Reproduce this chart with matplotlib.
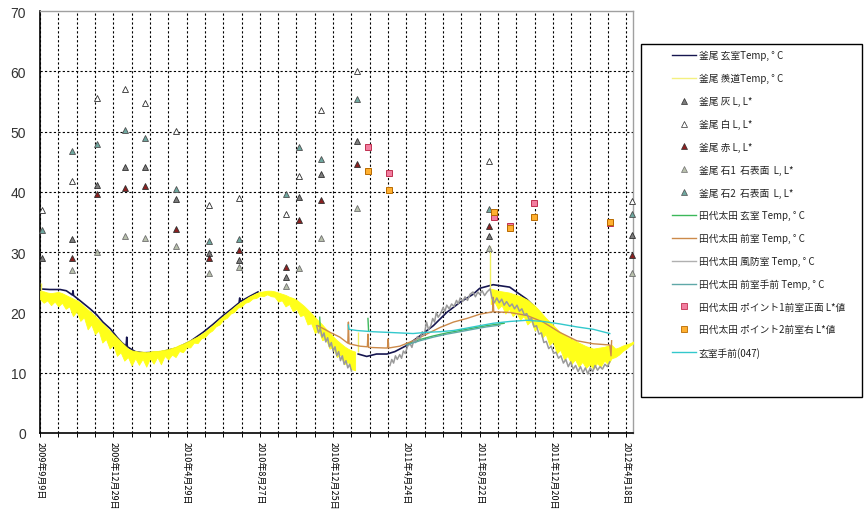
import numpy as np
import matplotlib
matplotlib.use('Agg')
import matplotlib.pyplot as plt
from matplotlib.lines import Line2D
from matplotlib.patches import Rectangle

plt.rcParams['font.family'] = ['Noto Sans CJK JP', 'DejaVu Sans']

# x axis is days from the first category
tick_days = [0, 120, 240, 360, 480, 600, 720, 840, 960]
tick_labels = ['2009年9月9日', '2009年12月29日', '2010年4月29日', '2010年8月27日',
               '2010年12月25日', '2011年4月24日', '2011年8月22日', '2011年12月20日',
               '2012年4月18日']

# 釜尾 玄室 temperature (nan = gap)
navy_days = [0, 16, 33, 43, 53, 54, 55, 65, 82, 93, 103, 115, 126, 134, 141, 142, 143,
             156, 169, 196, 224, 246, 267, 283, 300, 314, 326, 327, 328, 344, 357,
             358,
             521, 535, 551, 568, 581, 600, 622, 644, 666, 688, 709, 720, 742, 769, 797,
             813, 829, 846, 862, 879, 900]
navy_vals = [23.9, 23.8, 23.8, 23.6, 22.9, 23.6, 22.8, 22.0, 20.6, 19.6, 18.4, 17.3, 15.9,
             15.0, 14.4, 15.9, 14.3, 13.5, 13.3, 13.4, 14.1, 15.2, 16.7, 18.0, 19.5, 20.6,
             21.6, 22.4, 21.8, 22.7, 23.4,
             np.nan,
             13.1, 12.7, 13.1, 13.1, 13.5, 14.5, 16.1, 17.8, 20.0, 21.7, 23.0, 24.0, 24.6,
             24.2, 22.2, 20.6, 18.4, 16.7, 15.6, 14.3, 13.2]

# 釜尾 羨道 temperature: noisy band, upper / lower edge every 6 days
yellow_days_a = np.arange(0, 517, 6)
yellow_top_a = [23.6, 23.5, 23.3, 23.2, 23.3, 23.4, 23.2, 22.9, 22.6, 22.3, 22.0, 21.6, 21.0,
                20.5, 20.0, 19.4, 18.8, 18.2, 17.6, 17.0, 16.4, 15.8, 15.2, 14.6, 14.0, 13.7,
                13.6, 13.5, 13.5, 13.4, 13.5, 13.6, 13.6, 13.7, 13.8, 13.9, 14.1, 14.3, 14.6,
                14.8, 15.1, 15.4, 15.7, 16.0, 16.4, 16.8, 17.3, 17.8, 18.3, 18.9, 19.4, 19.9,
                20.4, 20.9, 21.4, 21.8, 22.2, 22.6, 22.9, 23.2, 23.4, 23.5, 23.6, 23.6, 23.5,
                23.3, 23.1, 22.9, 22.6, 22.4, 22.1, 21.6, 21.1, 20.5, 19.9, 19.2, 18.6, 18.0,
                17.3, 16.7, 16.0, 15.4, 14.9, 14.4, 14.0, 13.7, 13.5]
yellow_bot_a = [22.2, 21.6, 22.0, 21.2, 21.8, 21.0, 21.6, 20.6, 21.0, 19.4, 20.2, 18.6, 19.2,
                17.2, 18.0, 16.4, 17.0, 15.0, 15.6, 14.0, 14.6, 12.8, 13.4, 12.0, 12.6, 11.2,
                12.4, 11.3, 12.3, 11.0, 12.4, 11.5, 12.6, 11.4, 12.8, 12.2, 13.0, 12.6, 13.6,
                13.4, 14.2, 14.2, 15.0, 14.9, 15.7, 15.9, 16.6, 17.0, 17.7, 18.0, 18.8, 19.1,
                19.8, 20.1, 20.8, 21.0, 21.6, 21.8, 22.3, 22.4, 22.8, 22.7, 23.0, 22.7, 22.6,
                21.8, 22.0, 21.0, 21.4, 20.2, 20.6, 19.4, 19.6, 18.0, 18.2, 16.6, 17.0, 15.4,
                15.6, 14.0, 14.2, 12.6, 13.0, 11.4, 11.8, 10.6, 10.4]
yellow_days_b = np.arange(738, 973, 6)
yellow_top_b = [23.9, 23.8, 23.6, 23.5, 23.4, 23.3, 23.1, 22.9, 22.7, 22.4, 22.1, 21.6, 21.1,
                20.5, 19.8, 19.1, 18.5, 17.9, 17.3, 16.7, 16.3, 15.9, 15.6, 15.3, 15.0, 14.7,
                14.4, 14.2, 14.0, 14.1, 14.2, 14.3, 14.5, 14.6, 14.0, 14.2, 14.5, 14.7, 14.9,
                15.2]
yellow_bot_b = [21.4, 21.8, 20.6, 21.2, 19.8, 20.6, 19.4, 20.0, 18.8, 19.4, 18.0, 18.6, 17.0,
                17.6, 15.8, 16.4, 14.6, 15.2, 13.2, 13.8, 12.2, 12.8, 11.4, 12.2, 11.0, 11.8,
                10.8, 11.4, 10.6, 11.6, 11.0, 12.0, 11.4, 12.4, 12.6, 13.0, 13.6, 14.0, 14.5,
                14.9]
# isolated spikes of the 羨道 logger
yellow_spike_days = [2, 521, 737]
yellow_spike_lo = [23.6, 13.4, 23.9]
yellow_spike_hi = [24.9, 16.7, 31.0]

# L* measurements, one value per visit
visit_days = [4, 52, 93, 139, 172, 222, 276, 326, 403, 424, 460, 519, 736, 969]
ash_vals = [29.0, 32.2, 41.2, 44.1, 44.1, 38.8, 29.9, 28.7, 25.8, 39.1, 42.9, 48.5, 32.7, 32.9]
white_vals = [37.0, 41.8, 55.5, 57.0, 54.7, 50.1, 37.8, 38.9, 36.4, 42.7, 53.5, 60.1, 45.2, 38.5]
red_vals = [np.nan, 29.0, 39.7, 40.7, 40.9, 33.8, 29.1, 30.4, 27.6, 35.4, 38.7, 44.7, 34.4, 29.5]
stone1_vals = [np.nan, 27.0, 30.1, 32.7, 32.4, 31.1, 26.6, 27.5, 24.4, 27.4, 32.4, 37.3, 30.7, 26.5]
stone2_vals = [33.6, 46.8, 48.0, 50.3, 48.9, 40.5, 31.8, 32.2, 39.7, 47.4, 45.5, 55.4, 37.1, 36.4]

# 田代太田 temperatures
green_days = [458, 459, 460, 537, 538, 539, 600, 622, 644, 666, 688, 709, 731, 753, 760]
green_vals = [19.2, 17.2, np.nan, 19.0, 17.0, np.nan, 14.8, 15.5, 16.1, 16.6, 17.0, 17.4,
              17.8, 18.1, 18.2]
front_days = [455, 466, 475, 491, 504, 505, 506, 524, 536, 537, 538, 565, 569, 570, 571, 589,
              611, 633, 655, 677, 699, 720, 741, 742, 743, 769, 797, 824, 851, 879, 906, 933,
              935, 936]
front_vals = [17.8, 17.2, 16.7, 15.9, 14.9, 18.4, 14.8, 14.4, 14.3, 16.4, 14.2, 14.1, 14.1,
              15.6, 14.1, 14.4, 15.3, 16.4, 17.5, 18.4, 19.0, 19.7, 20.1, 22.5, 20.1, 20.0,
              19.5, 18.4, 16.7, 15.3, 14.8, 14.6, 12.8, 15.3]
wind_days = [453, 456, 459, 462, 465, 468, 471, 474, 477, 480, 483, 486, 489, 492, 495, 498,
             501, 504, 507, 510, 511,
             573, 576, 579, 582, 585, 589, 592, 595, 598, 602, 606, 609, 612, 615, 618, 622,
             626, 629, 633, 636, 640, 643, 646, 649, 652, 656, 660, 663, 666, 670, 674, 678,
             682, 685, 688, 692, 696, 700, 704, 709, 713, 717, 720, 724, 728, 732, 737, 740,
             744, 748, 752, 756, 760, 764, 769, 773, 777, 781, 785, 789, 793, 797, 801, 805,
             809, 813, 817, 821, 825, 829, 833, 837, 841, 845, 849, 853, 857, 861, 865, 869,
             873, 877, 881, 885, 889, 893, 897, 901, 905, 909, 913, 917, 921, 925, 929, 933]
wind_vals = [17.8, 16.6, 17.3, 15.9, 16.6, 15.1, 15.8, 14.3, 15.0, 13.6, 14.3, 12.8, 13.5,
             12.0, 12.8, 11.4, 12.0, 10.8, 11.4, 10.3, np.nan,
             11.2, 12.2, 11.6, 12.8, 12.2, 13.0, 12.4, 13.6, 13.2, 14.4, 14.8, 14.2, 15.4,
             15.0, 16.0, 15.6, 16.8, 16.2, 18.4, 17.2, 17.8, 19.0, 18.4, 20.0, 19.2, 19.8,
             20.8, 20.2, 21.2, 20.6, 21.4, 21.0, 22.0, 21.4, 22.4, 21.8, 22.6, 22.0, 23.0,
             23.4, 22.6, 23.4, 23.0, 23.6, 22.8, 23.4, 23.9, 22.4, 21.6, 22.4, 21.6, 22.2,
             21.2, 21.8, 21.0, 21.4, 20.6, 21.2, 20.2, 20.6, 19.6, 19.8, 18.8, 19.0, 17.6,
             17.8, 16.4, 16.6, 15.0, 15.2, 14.0, 14.4, 13.2, 13.4, 12.4, 12.8, 11.6, 12.2,
             11.0, 11.8, 10.6, 11.2, 10.2, 11.0, 10.0, 10.8, 9.8, 10.8, 10.2, 11.2, 10.4,
             11.0, 10.6, 11.4, 11.0, 11.8]
hand_days = [600, 622, 644, 666, 688, 709, 731, 753]
hand_vals = [14.6, 15.3, 15.9, 16.4, 16.8, 17.2, 17.6, 17.9]
p1_days = [537, 571, 743, 769, 809, 934]
p1_vals = [47.5, 43.1, 35.8, 34.4, 38.1, 34.8]
p2_days = [537, 571, 743, 769, 809, 934]
p2_vals = [43.4, 40.3, 36.6, 34.0, 35.8, 35.0]
gen047_days = [505, 506, 519, 545, 568, 589, 611, 633, 655, 677, 699, 720, 742, 769, 797,
               824, 851, 879, 906, 933]
gen047_vals = [17.9, 17.2, 17.0, 16.8, 16.7, 16.6, 16.5, 16.7, 16.8, 17.0, 17.4, 17.8, 18.2,
               18.5, 18.7, 18.5, 18.1, 17.6, 17.2, 16.5]

labels = ['釜尾 玄室Temp, ° C', '釜尾 羨道Temp, ° C', '釜尾 灰 L, L*', '釜尾 白 L, L*',
          '釜尾 赤 L, L*', '釜尾 石1  石表面  L, L*', '釜尾 石2  石表面  L, L*',
          '田代太田 玄室 Temp, ° C', '田代太田 前室 Temp, ° C', '田代太田 風防室 Temp, ° C',
          '田代太田 前室手前 Temp, ° C', '田代太田 ポイント1前室正面 L*値',
          '田代太田 ポイント2前室右 L*値', '玄室手前(047)']

c_navy = '#161650'
c_yellow = '#ffff1a'
c_ash = '#7c7c7c'
c_red = '#8c2020'
c_st1 = '#b8c0ac'
c_st2 = '#6fa8a0'
c_green = '#3cb85a'
c_front = '#cc8a4a'
c_wind = '#9a9a9a'
c_hand = '#5fa8a8'
c_047 = '#33c8cc'

fig = plt.figure(figsize=(8.64, 5.10), dpi=100)
ax = fig.add_axes([40 / 864, 76 / 510, 593 / 864, 422 / 510])

ax.plot(navy_days, navy_vals, color=c_navy, lw=1.2, zorder=3)
ax.fill_between(yellow_days_a, yellow_bot_a, yellow_top_a, color=c_yellow, lw=0.6,
                edgecolor=c_yellow, zorder=3.1)
ax.fill_between(yellow_days_b, yellow_bot_b, yellow_top_b, color=c_yellow, lw=0.6,
                edgecolor=c_yellow, zorder=3.1)
ax.vlines(yellow_spike_days, yellow_spike_lo, yellow_spike_hi, color='#f0f060', lw=1.0, zorder=3.1)

tri = dict(ls='none', marker='^', ms=5, mew=0.6, mec='#303030', zorder=5, clip_on=False)
ax.plot(visit_days, ash_vals, mfc=c_ash, **tri)
ax.plot(visit_days, white_vals, mfc='white', **tri)
ax.plot(visit_days, red_vals, mfc=c_red, **tri)
ax.plot(visit_days, stone1_vals, mfc=c_st1, **dict(tri, mec='#707070'))
ax.plot(visit_days, stone2_vals, mfc=c_st2, **dict(tri, mec='#505050'))

ax.plot(green_days, green_vals, color=c_green, lw=1.0, zorder=3.2)
ax.plot(front_days, front_vals, color=c_front, lw=1.0, zorder=3.3)
ax.plot(wind_days, wind_vals, color=c_wind, lw=1.1, zorder=3.4)
ax.plot(hand_days, hand_vals, color=c_hand, lw=1.0, zorder=3.5)
ax.plot(p1_days, p1_vals, ls='none', marker='s', ms=4.5, mfc='#f27ea0', mec='#c03050',
        mew=0.7, zorder=5)
ax.plot(p2_days, p2_vals, ls='none', marker='s', ms=4.5, mfc='#ffb030', mec='#b86a00',
        mew=0.7, zorder=5)
ax.plot(gen047_days, gen047_vals, color=c_047, lw=1.0, zorder=3.6)

ax.set_xlim(0, 971)
ax.set_ylim(0, 70)
ax.set_yticks(range(0, 71, 10))
ax.set_xticks(tick_days)
ax.set_xticklabels(tick_labels, rotation=270, fontsize=6.5, va='top', ha='center')
ax.set_xticks(np.arange(30, 971, 30), minor=True)
ax.tick_params(axis='x', which='both', direction='out', length=3, width=0.7, pad=3)
ax.tick_params(axis='y', length=0, pad=10, labelsize=10, labelcolor='#333333')
for t in ax.get_yticklabels():
    t.set_family(['Liberation Sans', 'DejaVu Sans'])

ax.grid(True, axis='y', which='major', color='black', ls=(0, (2, 2)), lw=0.8)
ax.grid(True, axis='x', which='both', color='black', ls=(0, (2, 2)), lw=0.8)
ygl = ax.get_ygridlines()
ygl[0].set_visible(False)
ygl[-1].set_visible(False)
ax.set_axisbelow(True)

for s in ['left', 'bottom']:
    ax.spines[s].set_color('black')
    ax.spines[s].set_linewidth(1.2)
for s in ['top', 'right']:
    ax.spines[s].set_color('#a0a0a0')
    ax.spines[s].set_linewidth(1.0)

# legend
handles = [
    Line2D([], [], color=c_navy, lw=1.0),
    Line2D([], [], color='#f4f080', lw=1.0),
    Line2D([], [], ls='none', marker='^', ms=4.5, mfc=c_ash, mec='#303030', mew=0.5),
    Line2D([], [], ls='none', marker='^', ms=4.5, mfc='white', mec='#303030', mew=0.5),
    Line2D([], [], ls='none', marker='^', ms=4.5, mfc=c_red, mec='#303030', mew=0.5),
    Line2D([], [], ls='none', marker='^', ms=4.5, mfc=c_st1, mec='#707070', mew=0.5),
    Line2D([], [], ls='none', marker='^', ms=4.5, mfc=c_st2, mec='#505050', mew=0.5),
    Line2D([], [], color=c_green, lw=1.0),
    Line2D([], [], color=c_front, lw=1.0),
    Line2D([], [], color='#b0b0b0', lw=1.0),
    Line2D([], [], color=c_hand, lw=1.0),
    Line2D([], [], ls='none', marker='s', ms=4, mfc='#f27ea0', mec='#c03050', mew=0.6),
    Line2D([], [], ls='none', marker='s', ms=4, mfc='#ffb030', mec='#b86a00', mew=0.6),
    Line2D([], [], color=c_047, lw=1.0),
]
fig.legend(handles, labels, loc='upper left', bbox_to_anchor=(672 / 864, (510 - 51) / 510),
           frameon=False, fontsize=7, labelspacing=1.3, handlelength=2.5,
           handletextpad=0.25, borderpad=0, borderaxespad=0, labelcolor='#222222')
fig.patches.append(Rectangle((641 / 864, (510 - 398) / 510), 221 / 864, 353 / 510,
                             transform=fig.transFigure, fill=False, edgecolor='black',
                             lw=1.0))

fig.savefig('out.png', dpi=100)
